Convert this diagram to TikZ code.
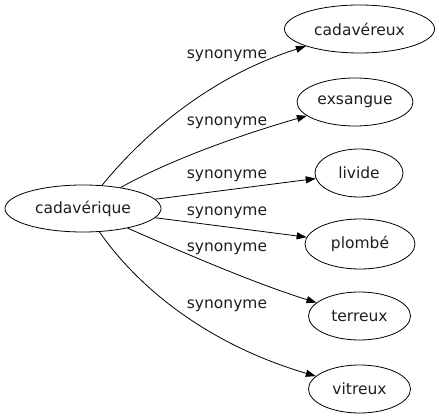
\documentclass[tikz,border=0pt]{standalone}
\usepackage{fontspec}
\setmainfont{DejaVu Sans}
\usetikzlibrary{arrows.meta,shapes.geometric}
\begin{document}
\begin{tikzpicture}[x=1pt, y=-1pt,
    word/.style={draw, line width=0.8pt, ellipse, inner sep=0pt, font=\fontsize{15.5}{18}\selectfont, text=mytext},
    syn/.style={-{Triangle[length=10pt, width=7pt]}, line width=0.8pt},
    synlabel/.style={font=\fontsize{15.5}{18}\selectfont, text=mytext, inner sep=0pt}]

    \definecolor{mytext}{RGB}{30, 30, 30}
    \useasboundingbox (0,0) rectangle (439,419);

    % words
    \node [word, minimum width=156pt, minimum height=47pt] (cadaverique) at (83,208.5) {cadavérique};
    \node [word, minimum width=150pt, minimum height=48pt] (cadavereux) at (359.5,29) {cadavéreux};
    \node [word, minimum width=116pt, minimum height=48pt] (exsangue) at (355,102) {exsangue};
    \node [word, minimum width=88pt, minimum height=48pt] (livide) at (359,173) {livide};
    \node [word, minimum width=110pt, minimum height=50pt] (plombe) at (360,244) {plombé};
    \node [word, minimum width=102pt, minimum height=48pt] (terreux) at (359.5,316) {terreux};
    \node [word, minimum width=102pt, minimum height=48pt] (vitreux) at (359.5,389) {vitreux};

    % synonyms
    \draw [syn] (cadaverique) .. controls (135,145) and (200,80) .. (cadavereux);
    \draw [syn] (cadaverique) .. controls (170,160) and (240,135) .. (exsangue);
    \draw [syn] (cadaverique) -- (livide);
    \draw [syn] (cadaverique) -- (plombe);
    \draw [syn] (cadaverique) .. controls (200,260) and (260,285) .. (terreux);
    \draw [syn] (cadaverique) .. controls (140,290) and (210,345) .. (vitreux);

    % labels
    \node [synlabel] (lcadavereux) at (227,56) {synonyme};
    \node [synlabel] (lexsangue) at (227,123) {synonyme};
    \node [synlabel] (llivide) at (227,176) {synonyme};
    \node [synlabel] (lplombe) at (227,213) {synonyme};
    \node [synlabel] (lterreux) at (227,249) {synonyme};
    \node [synlabel] (lvitreux) at (227,306) {synonyme};

\end{tikzpicture}
\end{document}
